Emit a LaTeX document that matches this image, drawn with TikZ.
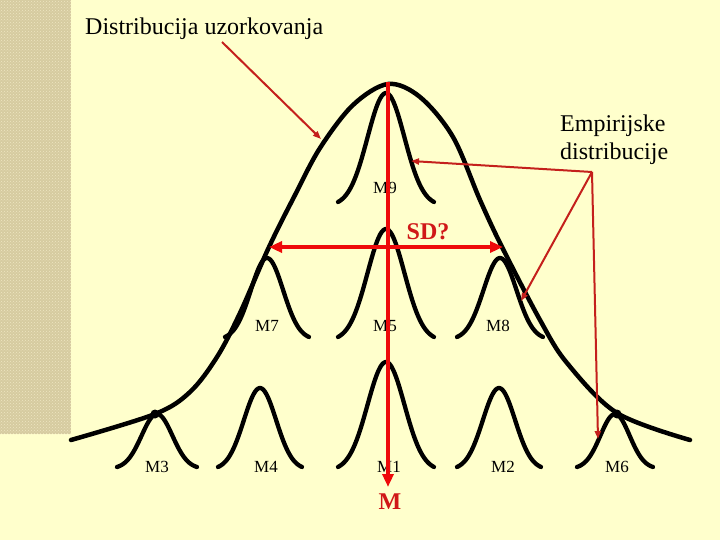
\documentclass[tikz,border=0pt]{standalone}
\usepackage{fontspec}
\setmainfont{Liberation Serif}
\usetikzlibrary{arrows.meta,patterns}
\definecolor{bgyellow}{HTML}{FFFFCC}
\definecolor{strip}{HTML}{D6CBA0}
\definecolor{stripdot}{HTML}{EEE6C2}
\definecolor{brightred}{HTML}{EE0A0A}
\definecolor{darkred}{HTML}{C4201C}
\definecolor{textred}{HTML}{D01818}
\newcommand\bellcurve[4]{\draw[bellline] plot[domain=-1:1,samples=60,smooth] ({#1+#3*\x},{#2-#4*(exp(-3.38*\x*\x)-0.034)/0.966});}
\tikzset{
  bellline/.style={line width=4.3pt,black,line cap=round,line join=round},
  biglinestyle/.style={line width=4.5pt,black,line cap=round},
  mlabel/.style={font=\fontsize{17}{17}\selectfont,inner sep=0pt},
  bigtext/.style={font=\fontsize{24}{24}\selectfont,inner sep=0pt},
  redbold/.style={font=\fontsize{24}{24}\selectfont\bfseries,text=textred,inner sep=0pt},
  thickred/.style={line width=4pt,brightred},
  thinred/.style={line width=2pt,darkred},
}
\begin{document}
\begin{tikzpicture}[x=1pt,y=-1pt]
\useasboundingbox (0,0) rectangle (720,540);
\fill[bgyellow] (0,0) rectangle (720,540);
\fill[strip] (0,0) rectangle (71,434);
\fill[pattern=crosshatch dots,pattern color=stripdot] (0,0) rectangle (71,434);
% sample bells
\bellcurve{386}{202}{48}{109}
\bellcurve{267}{337}{42}{79}
\bellcurve{386}{337}{48}{108}
\bellcurve{500}{337}{43}{79}
\bellcurve{157}{467}{40}{53}
\bellcurve{260}{467}{42}{79}
\bellcurve{386}{467}{48}{105}
\bellcurve{499}{467}{42}{79}
\bellcurve{615}{467}{38}{53}
% sampling distribution
\draw[biglinestyle] plot[smooth,tension=0.55] coordinates {(71,440) (155,414) (190,392) (217,357) (240,313) (269,247) (295,195) (320,148) (353,105) (388,84) (420,97) (453,137) (480,200) (502,247) (540,320) (567,363) (617,413) (690,440)};
\fill (155,414) circle (4.5);
\fill (617,414) circle (4.5);
% labels
\node[mlabel] (m9) at (385,188) {M9};
\node[mlabel] (m7) at (267,326) {M7};
\node[mlabel] (m5) at (385,326) {M5};
\node[mlabel] (m8) at (498,326) {M8};
\node[mlabel] (m3) at (157,467) {M3};
\node[mlabel] (m4) at (266,467) {M4};
\node[mlabel] (m1) at (389,467) {M1};
\node[mlabel] (m2) at (503,467) {M2};
\node[mlabel] (m6) at (617,467) {M6};
\node[bigtext,anchor=base west] (du) at (85,35) {Distribucija uzorkovanja};
\node[bigtext,anchor=base west] (emp1) at (560,132) {Empirijske};
\node[bigtext,anchor=base west] (emp2) at (560,160) {distribucije};
\node[redbold] (sd) at (428,232) {SD?};
\node[redbold] (mm) at (390,502) {M};
% coordinates
\coordinate (top) at (388,82);
\coordinate (bottom) at (388,487);
\coordinate (sdl) at (269,247);
\coordinate (sdr) at (503,247);
\coordinate (dustart) at (222,42);
\coordinate (duend) at (321,139);
\coordinate (hub) at (592,172);
\coordinate (e1) at (411,161);
\coordinate (e2) at (521,301);
\coordinate (e3) at (598,439);
% red arrows
\draw[thickred,-{Triangle[width=11pt,length=13pt]}] (top) -- (bottom);
\draw[thickred,{Triangle[width=11pt,length=13pt]}-{Triangle[width=11pt,length=13pt]}] (sdl) -- (sdr);
\draw[thinred,-{Triangle[width=6pt,length=8pt]}] (dustart) -- (duend);
\draw[thinred,-{Triangle[width=6pt,length=8pt]}] (hub) -- (e1);
\draw[thinred,-{Triangle[width=6pt,length=8pt]}] (hub) -- (e2);
\draw[thinred,-{Triangle[width=6pt,length=8pt]}] (hub) -- (e3);
\end{tikzpicture}
\end{document}
